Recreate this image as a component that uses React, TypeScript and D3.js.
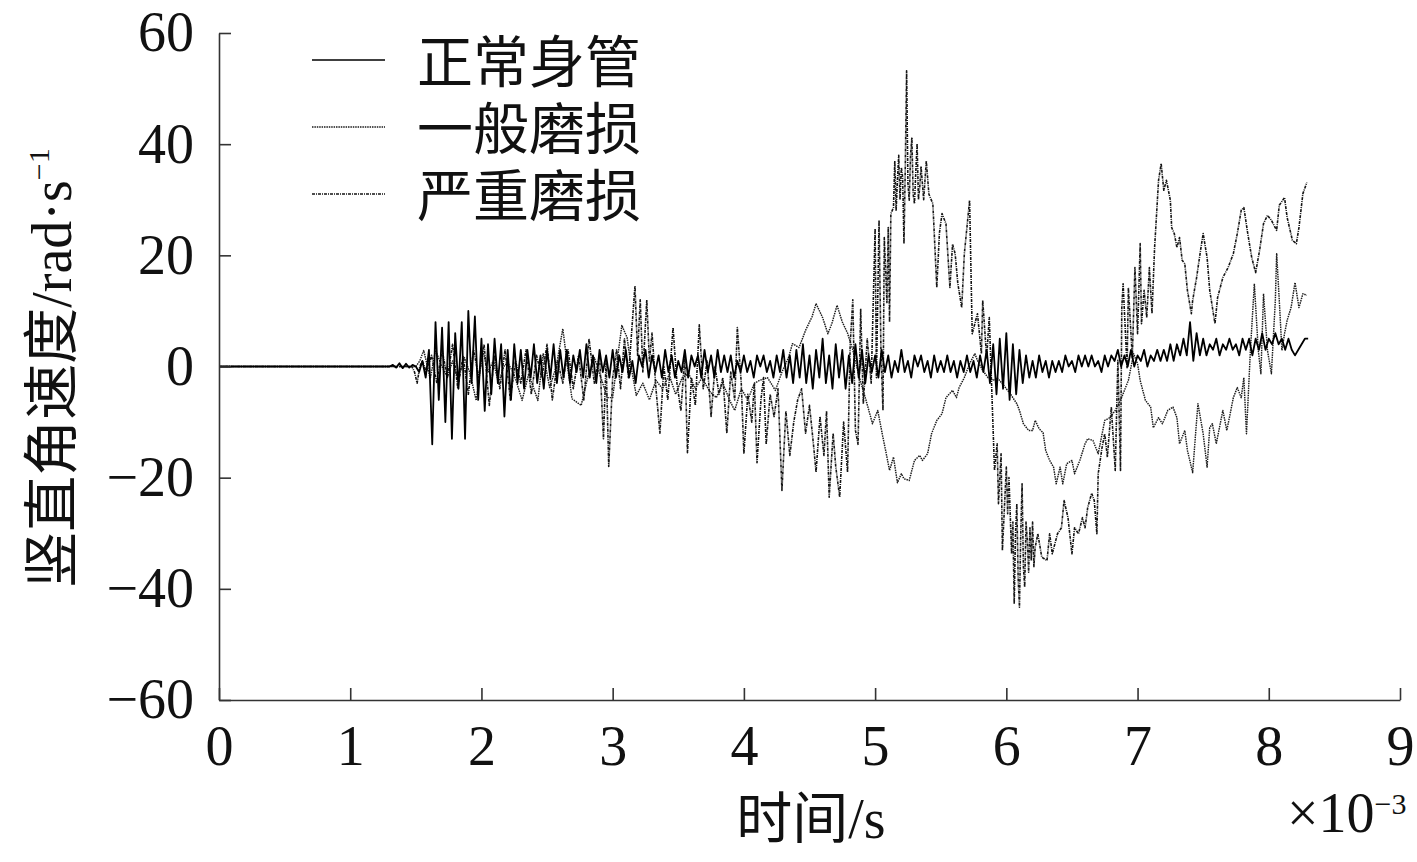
import React, { useEffect, useRef } from 'react';
import * as d3 from 'd3';

// 坐标轴刻度: 横轴单位 ×10^-3 s, 纵轴 rad/s
const xTicks = [0, 1, 2, 3, 4, 5, 6, 7, 8, 9];
const yTicks = [-60, -40, -20, 0, 20, 40, 60];
const legendNames = ['正常身管', '一般磨损', '严重磨损'];

// 正常身管: 等间隔采样 (起点 normalT0, 步长 normalDt), 之前为 0
const normalT0 = 1.3;
const normalDt = 0.025;
const normalValues = [
  0, 0.3, -0.2, 0.6, -0.3, 0.5, -0.2, 0.3,
  0, -1, 1, -2, 3, -14, 8, -6, 7, -10,
  8, -13, 6, -4, 8, -13, 10, -3, 9, -6,
  5, -8, 4, -5, 5, -3, 4, -9, 3, -6,
  4, -3, 3, -4, 3, -2, 4, -3, 2, -4,
  3, -2, 4, -3, 3, -2, 3, -3, 2, -1,
  3, -2, 4, -2, 2, -3, 3, -1, 2, -2,
  3, -2, 2, -1, 3, -2, 1, -3, 2, 0,
  3, -2, 2, -1, 2, -2, 3, -1, 2, -2,
  1, -1, 3, -2, 2, 0, 2, -2, 3, -1,
  2, -2, 3, -1, 2, -1, 2, -2, 1, -1,
  2, -1, 1, -2, 2, 0, 2, -1, 1, -2,
  2, -1, 3, -2, 2, -3, 3, -2, 4, -3,
  2, -4, 3, -2, 5, -3, 2, -4, 4, -2,
  3, -4, 2, -3, 4, -2, 3, -3, 2, -1,
  2, -2, 3, -1, 2, -2, 1, -1, 3, -1,
  1, -2, 2, 0, 2, -1, 1, -2, 2, -1,
  1, -1, 2, -1, 1, -2, 1, -1, 2, -1,
  1, -2, 2, -1, 3, -3, 4, -5, 5, -4,
  6, -6, 4, -5, 3, -3, 2, -2, 1, -2,
  2, -1, 1, -2, 1, -1, 1, -1, 2, 0,
  1, -1, 2, 0, 2, 0, 2, 0, 1, -1,
  2, 0, 2, 1, 3, 0, 2, 0, 3, 0,
  2, 1, 3, 0, 2, 1, 3, 1, 3, 1,
  4, 1, 4, 2, 5, 2, 8, 1, 6, 2,
  5, 2, 4, 3, 5, 2, 4, 3, 5, 3,
  4, 2, 5, 3, 5, 2, 5, 3, 6, 3,
  5, 4, 6, 4, 5, 3, 5, 3, 2, 3,
  4, 5, 5,
];

// 一般磨损: [时间, 角速度]
const moderatePts: [number, number][] = [
  [0, 0], [1.5, 0], [1.53, 1], [1.56, 2.9], [1.61, -2.2], [1.65, 2.9], [1.7, 0], [1.74, -2],
  [1.78, 1], [1.82, -2.2], [1.87, 1.6], [1.91, -1], [1.96, -6.1], [2.01, 2.9], [2.05, -1],
  [2.09, 1], [2.13, -3], [2.17, 0], [2.2, 0.7], [2.24, -1], [2.27, -3], [2.31, -6.1],
  [2.36, -1.3], [2.43, -6.1], [2.47, 2.3], [2.52, -3.8], [2.57, 0], [2.62, 6.8], [2.66, -0.7],
  [2.69, -5.8], [2.76, -7], [2.81, -2], [2.86, 1.6], [2.91, -2], [2.96, -5.6], [3.0, -5.6],
  [3.04, 2], [3.07, 7.4], [3.11, 5.2], [3.14, 0], [3.18, -5.2], [3.23, -3], [3.28, -6],
  [3.33, -2.5], [3.38, -4], [3.43, -1.5], [3.48, -5], [3.53, -2], [3.58, -1.3], [3.63, -4],
  [3.68, -2], [3.74, -4.5], [3.79, -5.6], [3.84, -3], [3.89, -6], [3.93, -7.9], [3.98, -4],
  [4.03, -6], [4.08, -3], [4.12, -2.5], [4.18, -2], [4.24, -4.3], [4.29, -1], [4.34, 1.6],
  [4.37, 4.1], [4.42, 3.4], [4.47, 6.5], [4.52, 9], [4.55, 11.3], [4.6, 8.8], [4.64, 5.9],
  [4.67, 7.7], [4.71, 11], [4.75, 8], [4.79, 6], [4.83, 3], [4.88, -2], [4.93, -6],
  [4.98, -10.3], [5.02, -7.9], [5.06, -12.8], [5.08, -15.1], [5.11, -18.7], [5.14, -16.3],
  [5.17, -20.9], [5.2, -19.3], [5.22, -20.2], [5.26, -20.5], [5.3, -16.9], [5.34, -16],
  [5.36, -16.9], [5.4, -15.7], [5.43, -12.1], [5.47, -9.7], [5.51, -8.5], [5.54, -5.6],
  [5.59, -4.3], [5.62, -5.6], [5.64, -3.8], [5.68, -2], [5.72, 0.5], [5.76, 2.3], [5.78, 1.1],
  [5.82, -0.7], [5.86, -2], [5.9, -2.5], [5.93, -2], [5.97, -3.1], [6.03, -4.9], [6.08, -6.7],
  [6.1, -7.9], [6.13, -10.3], [6.17, -11.5], [6.2, -11.5], [6.22, -9.7], [6.25, -11.2],
  [6.28, -11.9], [6.3, -15.1], [6.33, -16.9], [6.36, -18.1], [6.38, -21.1], [6.41, -18.1],
  [6.43, -21.1], [6.46, -17.5], [6.5, -16.9], [6.52, -19.3], [6.56, -16.9], [6.6, -13.9],
  [6.62, -13], [6.66, -13.3], [6.7, -15.7], [6.73, -12.1], [6.75, -9.7], [6.79, -9.2],
  [6.83, -7.9], [6.87, -6.1], [6.9, -4.3], [6.93, -2.5], [6.97, 2.3], [7.0, 0.5], [7.02, -2.5],
  [7.06, -6.1], [7.1, -7.3], [7.12, -11], [7.16, -9.2], [7.19, -10.3], [7.23, -7.9],
  [7.27, -7.3], [7.3, -9.2], [7.32, -13.9], [7.36, -11.5], [7.38, -15.1], [7.42, -19.1],
  [7.44, -12.8], [7.46, -6.7], [7.5, -12.1], [7.53, -18.1], [7.55, -11], [7.57, -10.3],
  [7.6, -13.9], [7.65, -7.9], [7.68, -11.5], [7.7, -9.2], [7.73, -5.6], [7.76, -3.8],
  [7.79, -5.6], [7.81, -2], [7.83, -12.1], [7.86, 2.9], [7.89, 14.9], [7.92, 2.9],
  [7.94, -1.3], [7.96, 13.1], [7.99, 2.9], [8.02, -1.3], [8.05, 11.9], [8.06, 20.3],
  [8.08, 11.9], [8.1, 2.9], [8.12, 5.9], [8.14, 8.3], [8.17, 10.6], [8.2, 15.1], [8.23, 10.6],
  [8.26, 13.1], [8.29, 12.8],
];

// 严重磨损: [时间, 角速度]
const severePts: [number, number][] = [
  [0, 0], [1.47, 0], [1.49, -1], [1.51, -3], [1.53, 0], [1.55, 1], [1.58, -1], [1.62, 2],
  [1.66, -3], [1.7, 3], [1.74, -2], [1.78, 4], [1.82, -4], [1.86, 2], [1.9, -5], [1.94, 3],
  [1.98, -2], [2.02, 4], [2.06, -7], [2.1, 2], [2.14, -4], [2.18, 3], [2.22, -6], [2.26, 1],
  [2.3, -3], [2.34, 3], [2.38, -5], [2.42, 2], [2.46, -2], [2.5, 4], [2.54, -6], [2.58, 1],
  [2.62, -3], [2.66, 3], [2.7, -4], [2.74, 2], [2.78, -6], [2.82, 5], [2.86, -3], [2.9, 2],
  [2.93, -13], [2.95, 1], [2.97, -18], [3.0, -2], [3.03, 3], [3.06, -4], [3.09, 5], [3.12, -2],
  [3.15, 8], [3.17, 14.5], [3.19, 2], [3.21, 12], [3.23, -1], [3.26, 12], [3.28, 1], [3.3, 6],
  [3.33, -4], [3.36, -12], [3.39, 0], [3.42, -6], [3.46, 7], [3.49, -3], [3.52, -8], [3.55, 2],
  [3.57, -15.5], [3.6, -2], [3.63, -7], [3.66, 7.5], [3.69, -4], [3.72, 1], [3.75, -9],
  [3.78, 0], [3.81, -5], [3.84, -2], [3.87, -12], [3.9, -1], [3.93, -6], [3.95, 7], [3.98, -3],
  [4.0, -15.7], [4.03, -5], [4.06, -10], [4.08, -3], [4.1, -17.3], [4.13, -6], [4.15, -2],
  [4.17, -14], [4.2, -5], [4.23, -9], [4.26, -4], [4.29, -22.3], [4.32, -8], [4.35, -16],
  [4.38, -10], [4.41, -6], [4.44, -4], [4.47, -12], [4.5, -7], [4.53, -14], [4.55, -19],
  [4.58, -9], [4.61, -16], [4.63, -8], [4.65, -23.5], [4.68, -12], [4.7, -18], [4.73, -23.5],
  [4.76, -10], [4.79, -19], [4.81, 4], [4.83, 12], [4.85, -11.5], [4.87, -14], [4.89, 10.4],
  [4.91, -6.7], [4.94, 5], [4.97, -3], [5.0, 24.8], [5.01, -2], [5.03, 26.3], [5.045, 2],
  [5.06, -7.9], [5.07, 23.2], [5.09, 11.5], [5.1, 25], [5.11, 8], [5.12, 27.5], [5.14, 28.6],
  [5.15, 37], [5.16, 28], [5.17, 33.5], [5.18, 38], [5.19, 30], [5.2, 35.8], [5.21, 34],
  [5.22, 22.1], [5.23, 36], [5.24, 53.2], [5.25, 33], [5.26, 29.9], [5.27, 38], [5.28, 41.2],
  [5.29, 31], [5.3, 29.3], [5.31, 35], [5.32, 40.1], [5.33, 30], [5.34, 32.2], [5.35, 36],
  [5.37, 30], [5.39, 37], [5.41, 31], [5.44, 29.3], [5.47, 14.2], [5.49, 24], [5.51, 27.5],
  [5.54, 25.7], [5.57, 14.2], [5.59, 22], [5.61, 20.3], [5.63, 15], [5.66, 10.6], [5.68, 20.3],
  [5.72, 29.9], [5.74, 5.9], [5.78, 9.5], [5.81, 2.3], [5.82, 11.9], [5.85, 1.6], [5.87, 8.8],
  [5.89, -4.9], [5.91, -18.7], [5.93, -13.9], [5.94, -24.7], [5.96, -15.7], [5.97, -33.1],
  [6.0, -18.1], [6.01, -26.5], [6.02, -20], [6.04, -33.7], [6.05, -28], [6.06, -42.7],
  [6.07, -30], [6.08, -24.7], [6.09, -38], [6.1, -43.3], [6.11, -30], [6.12, -21.1],
  [6.13, -36], [6.14, -39.7], [6.15, -28], [6.16, -31.3], [6.17, -37], [6.18, -29],
  [6.19, -34.9], [6.2, -28], [6.21, -36], [6.22, -32.5], [6.24, -30.1], [6.27, -34.3],
  [6.31, -34.9], [6.33, -30.1], [6.35, -33.7], [6.39, -30.1], [6.42, -29], [6.44, -24.1],
  [6.47, -27.2], [6.5, -33.7], [6.52, -29], [6.55, -30.1], [6.58, -27.2], [6.6, -29],
  [6.62, -25.4], [6.65, -22.8], [6.67, -24.1], [6.69, -30.1], [6.7, -19.3], [6.73, -14.5],
  [6.75, -12.1], [6.77, -16.3], [6.8, -7.3], [6.83, -18.7], [6.85, 1.1], [6.87, -18.7],
  [6.88, 10.6], [6.89, 14.9], [6.92, -0.2], [6.93, 14.2], [6.96, 1.6], [6.98, 17.8], [7.0, 5.9],
  [7.02, 22.1], [7.03, 7.7], [7.05, 13.7], [7.07, 8.8], [7.09, 17.8], [7.11, 9.5], [7.13, 21.4],
  [7.16, 33.5], [7.18, 36.5], [7.2, 31.7], [7.22, 33.5], [7.25, 29.9], [7.26, 25], [7.28, 23.9],
  [7.3, 21.4], [7.32, 23.2], [7.34, 19.1], [7.36, 18.5], [7.38, 13.7], [7.41, 9.5], [7.42, 11.9],
  [7.45, 16], [7.48, 20.9], [7.5, 23.9], [7.53, 19.6], [7.55, 13.7], [7.59, 7.7], [7.61, 12.4],
  [7.65, 16], [7.69, 17.8], [7.73, 20.3], [7.76, 23.9], [7.79, 28.1], [7.81, 28.6], [7.84, 23.9],
  [7.87, 19.6], [7.9, 16.9], [7.93, 20.9], [7.96, 25.7], [7.99, 27.2], [8.02, 26.3], [8.06, 24.5],
  [8.08, 29], [8.12, 30.4], [8.14, 26.8], [8.18, 22.7], [8.21, 22.1], [8.23, 25], [8.26, 31.1],
  [8.29, 33.1],
];

const serif = '"Liberation Serif", "Times New Roman", serif';
const cjk = '"Liberation Serif", "Noto Sans CJK SC", sans-serif';
const minus = (d: number) => (d < 0 ? '\u2212' + Math.abs(d) : String(d));

export default function App() {
  const ref = useRef<SVGSVGElement>(null);

  useEffect(() => {
    const width = 1417;
    const height = 862;
    const margin = { top: 33, right: 17, bottom: 162, left: 219 };

    const svg = d3.select(ref.current);
    svg.selectAll('*').remove();

    const x = d3.scaleLinear().domain([0, 9]).range([margin.left, width - margin.right]);
    const y = d3.scaleLinear().domain([-60, 60]).range([height - margin.bottom, margin.top]);

    const normalPts: [number, number][] = [
      [0, 0],
      ...normalValues.map((v, i) => [normalT0 + i * normalDt, v] as [number, number]),
    ];

    const line = d3.line<[number, number]>().x(d => x(d[0])).y(d => y(d[1]));

    // 三条曲线: 严重磨损在最下层, 正常身管在最上层
    const styles = [
      { data: severePts, dash: '3,1,1,1', width: 1.6, color: '#151515' },
      { data: moderatePts, dash: '1.5,0.9', width: 1.45, color: '#1a1a1a' },
      { data: normalPts, dash: null, width: 1.8, color: '#000' },
    ];
    styles.forEach(s => {
      svg.append('path')
        .datum(s.data)
        .attr('fill', 'none')
        .attr('stroke', s.color)
        .attr('stroke-width', s.width)
        .attr('stroke-dasharray', s.dash)
        .attr('stroke-linejoin', 'round')
        .attr('d', line);
    });

    // 坐标轴 (刻度朝内)
    const yAxis = svg.append('g')
      .attr('transform', `translate(${margin.left},0)`)
      .call(d3.axisLeft(y).tickValues(yTicks).tickSizeInner(-12).tickSizeOuter(0).tickPadding(25).tickFormat(d => minus(+d)));
    const xAxis = svg.append('g')
      .attr('transform', `translate(0,${height - margin.bottom})`)
      .call(d3.axisBottom(x).tickValues(xTicks).tickSizeInner(-12).tickSizeOuter(0).tickPadding(25).tickFormat(d => String(d)));

    [yAxis, xAxis].forEach(g => {
      g.select('.domain').attr('stroke', '#333').attr('stroke-width', 1.6);
      g.selectAll('.tick line').attr('stroke', '#333').attr('stroke-width', 1.6);
      g.selectAll('.tick text')
        .attr('fill', '#111')
        .style('font-family', serif)
        .style('font-size', '56px');
    });

    // 纵轴标题
    const yTitle = svg.append('text')
      .attr('transform', 'translate(71,368) rotate(-90)')
      .attr('text-anchor', 'middle')
      .attr('fill', '#111')
      .style('font-family', cjk)
      .style('font-size', '56px');
    yTitle.append('tspan').text('竖直角速度/rad·s');
    yTitle.append('tspan').attr('dy', -22).style('font-size', '30px').text('\u22121');

    // 横轴标题与量级
    svg.append('text')
      .attr('x', 811).attr('y', 838)
      .attr('text-anchor', 'middle')
      .attr('fill', '#111')
      .style('font-family', cjk)
      .style('font-size', '56px')
      .text('时间/s');

    const scaleNote = svg.append('text')
      .attr('x', 1287).attr('y', 832)
      .attr('fill', '#111')
      .style('font-family', serif)
      .style('font-size', '56px');
    scaleNote.append('tspan').text('×10');
    scaleNote.append('tspan').attr('dy', -18).style('font-size', '30px').text('\u22123');

    // 图例
    const legend = svg.append('g');
    styles.slice().reverse().forEach((s, i) => {
      const ly = 60 + i * 67;
      legend.append('line')
        .attr('x1', 312).attr('x2', 385)
        .attr('y1', ly).attr('y2', ly)
        .attr('stroke', s.color)
        .attr('stroke-width', s.dash ? 1.3 : 1.5)
        .attr('stroke-dasharray', s.dash);
      legend.append('text')
        .attr('x', 417).attr('y', ly + 22)
        .attr('fill', '#111')
        .style('font-family', cjk)
        .style('font-size', '56px')
        .text(legendNames[i]);
    });
  }, []);

  return (
    <svg
      ref={ref}
      width={1417}
      height={862}
      style={{ position: 'absolute', left: 0, top: 0, background: '#fff' }}
    />
  );
}
